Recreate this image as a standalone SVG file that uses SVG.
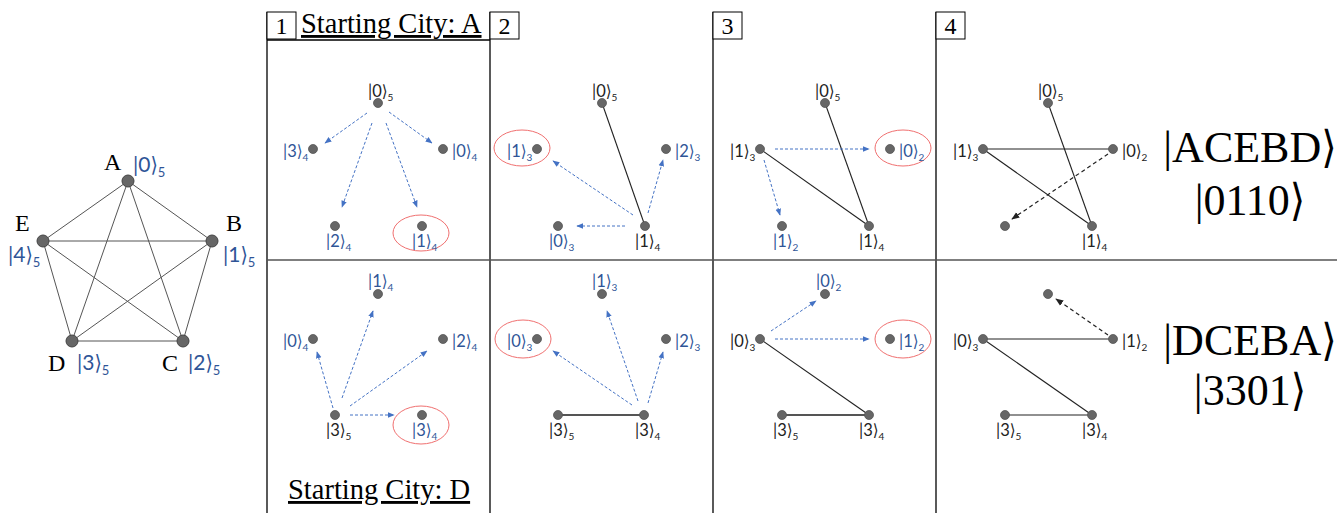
<svg xmlns="http://www.w3.org/2000/svg" width="1337" height="513" viewBox="0 0 1337 513">
<style>
.bg{fill:#fff}
.grid{stroke:#000;stroke-width:1.3;fill:none}
.hl{stroke:#555;stroke-width:1.6}
.box{fill:#fff;stroke:#000;stroke-width:1}
.num{font-family:"Liberation Serif",serif;font-size:24px;fill:#000;text-anchor:middle}
.title{font-family:"Liberation Serif",serif;font-size:28.5px;fill:#000;text-decoration:underline}
.big{font-family:"Liberation Serif",serif;font-size:44px;fill:#000;text-anchor:middle}
.bb{font-family:"DejaVu Serif Condensed","DejaVu Serif",serif;font-weight:normal}
.let{font-family:"Liberation Serif",serif;font-size:24px;fill:#000}
.k{font-family:Lato,"DejaVu Sans Condensed","DejaVu Sans",sans-serif;font-size:16.5px;fill:#222}
.kb{font-family:Lato,"DejaVu Sans Condensed","DejaVu Sans",sans-serif;font-size:16.5px;fill:#2F5597}
.kl{font-family:Lato,"DejaVu Sans Condensed","DejaVu Sans",sans-serif;font-size:21px;fill:#2F5597}
.s{font-size:10px}
.sl{font-size:13px}
.nd{fill:#666;stroke:#555;stroke-width:0.8}
.ndl{fill:#666;stroke:#444;stroke-width:1}
.edge{stroke:#555;stroke-width:1;fill:none}
.sol{stroke:#222;stroke-width:1.1;fill:none}
.gry{stroke:#555;stroke-width:2;fill:none}
.da{stroke:#4472C4;stroke-width:1;stroke-dasharray:3 2;fill:none;marker-end:url(#ab)}
.dk{stroke:#222;stroke-width:1.2;stroke-dasharray:4 3;fill:none;marker-end:url(#ak)}
.red{fill:none;stroke:#F07070;stroke-width:1}
</style>
<defs>
<marker id="ab" viewBox="0 0 10 10" refX="9" refY="5" markerWidth="7" markerHeight="7" markerUnits="userSpaceOnUse" orient="auto"><path d="M0,1 L10,5 L0,9 z" fill="#4472C4"/></marker>
<marker id="ak" viewBox="0 0 10 10" refX="9" refY="5" markerWidth="8" markerHeight="8" markerUnits="userSpaceOnUse" orient="auto"><path d="M0,1 L10,5 L0,9 z" fill="#222"/></marker>
</defs>
<rect class="bg" x="0" y="0" width="1337" height="513"/>

<g id="grid">
<line class="grid" x1="267" y1="12" x2="267" y2="513"/>
<line class="grid" x1="490" y1="12" x2="490" y2="513"/>
<line class="grid" x1="713" y1="12" x2="713" y2="513"/>
<line class="grid" x1="936" y1="12" x2="936" y2="513"/>
<line class="grid" x1="267" y1="40" x2="490" y2="40"/>
<line class="hl" x1="267" y1="260" x2="1337" y2="260"/>
</g>

<g id="headers">
<rect class="box" x="267" y="12" width="29" height="27"/><text class="num" x="281.5" y="34">1</text>
<rect class="box" x="490" y="12" width="29" height="27"/><text class="num" x="504.5" y="34">2</text>
<rect class="box" x="713" y="12" width="29" height="27"/><text class="num" x="727.5" y="34">3</text>
<rect class="box" x="936" y="12" width="29" height="27"/><text class="num" x="950.5" y="34">4</text>
<text class="title" x="301" y="33">Starting City: A</text>
<text class="title" x="288" y="499">Starting City: D</text>
</g>

<g id="connectors">
<line class="edge" x1="128" y1="181" x2="212" y2="241"/>
<line class="edge" x1="128" y1="181" x2="43" y2="241"/>
<line class="edge" x1="128" y1="181" x2="72" y2="341"/>
<line class="edge" x1="128" y1="181" x2="183" y2="341"/>
<line class="edge" x1="43" y1="241" x2="212" y2="241"/>
<line class="edge" x1="43" y1="241" x2="72" y2="341"/>
<line class="edge" x1="43" y1="241" x2="183" y2="341"/>
<line class="edge" x1="212" y1="241" x2="72" y2="341"/>
<line class="edge" x1="212" y1="241" x2="183" y2="341"/>
<line class="edge" x1="72" y1="341" x2="183" y2="341"/>
<line class="da" x1="367" y1="113" x2="325" y2="143"/>
<line class="da" x1="389" y1="112" x2="432" y2="143"/>
<line class="da" x1="372" y1="123" x2="342" y2="207"/>
<line class="da" x1="386" y1="123" x2="417" y2="207"/>
<line class="sol" x1="602" y1="103" x2="645" y2="226"/>
<line class="da" x1="633" y1="215" x2="553" y2="161"/>
<line class="da" x1="648" y1="213" x2="663" y2="160"/>
<line class="da" x1="625" y1="226" x2="577" y2="226"/>
<line class="sol" x1="825" y1="103" x2="869" y2="226"/>
<line class="sol" x1="760" y1="149" x2="869" y2="226"/>
<line class="da" x1="775" y1="149" x2="869" y2="149"/>
<line class="da" x1="764" y1="160" x2="780" y2="215"/>
<line class="sol" x1="1048" y1="103" x2="1092" y2="226"/>
<line class="sol" x1="983" y1="149" x2="1092" y2="226"/>
<line class="sol" x1="983" y1="149" x2="1113" y2="149"/>
<line class="dk" x1="1108" y1="154" x2="1012" y2="219"/>
<line class="da" x1="333" y1="408" x2="317" y2="352"/>
<line class="da" x1="342" y1="398" x2="373" y2="311"/>
<line class="da" x1="350" y1="406" x2="427" y2="351"/>
<line class="da" x1="350" y1="415" x2="394" y2="415"/>
<line class="gry" x1="558" y1="415" x2="644" y2="415"/>
<line class="da" x1="632" y1="405" x2="553" y2="351"/>
<line class="da" x1="638" y1="401" x2="607" y2="311"/>
<line class="da" x1="648" y1="403" x2="663" y2="352"/>
<line class="gry" x1="782" y1="415" x2="869" y2="415"/>
<line class="sol" x1="760" y1="339" x2="869" y2="415"/>
<line class="da" x1="771" y1="331" x2="816" y2="301"/>
<line class="da" x1="775" y1="339" x2="869" y2="339"/>
<line class="sol" x1="983" y1="339" x2="1113" y2="339"/>
<line class="sol" x1="983" y1="339" x2="1092" y2="415"/>
<line class="sol" x1="1005" y1="415" x2="1092" y2="415"/>
<line class="dk" x1="1108" y1="335" x2="1056" y2="299"/>
</g>

<g id="cityA"><circle class="ndl" cx="128" cy="181" r="6"/><text class="let" x="104" y="170">A</text><text class="kl" x="133" y="172">|0⟩<tspan class="sl" dy="5">5</tspan></text></g>
<g id="cityB"><circle class="ndl" cx="212" cy="241" r="6"/><text class="let" x="226" y="231">B</text><text class="kl" x="223" y="262">|1⟩<tspan class="sl" dy="5">5</tspan></text></g>
<g id="cityC"><circle class="ndl" cx="183" cy="341" r="6"/><text class="let" x="162" y="371">C</text><text class="kl" x="188" y="370">|2⟩<tspan class="sl" dy="5">5</tspan></text></g>
<g id="cityD"><circle class="ndl" cx="72" cy="341" r="6"/><text class="let" x="48" y="371">D</text><text class="kl" x="77" y="370">|3⟩<tspan class="sl" dy="5">5</tspan></text></g>
<g id="cityE"><circle class="ndl" cx="43" cy="241" r="6"/><text class="let" x="15" y="231">E</text><text class="kl" x="8" y="262">|4⟩<tspan class="sl" dy="5">5</tspan></text></g>

<g id="p1t-a"><circle class="nd" cx="378" cy="103" r="4.5"/><text class="k" x="368" y="97">|0⟩<tspan class="s" dy="4">5</tspan></text></g>
<g id="p1t-b"><circle class="nd" cx="313" cy="149" r="4.5"/><text class="kb" x="283" y="157">|3⟩<tspan class="s" dy="4">4</tspan></text></g>
<g id="p1t-c"><circle class="nd" cx="443" cy="149" r="4.5"/><text class="kb" x="452" y="157">|0⟩<tspan class="s" dy="4">4</tspan></text></g>
<g id="p1t-d"><circle class="nd" cx="335" cy="226" r="4.5"/><text class="kb" x="326" y="247">|2⟩<tspan class="s" dy="4">4</tspan></text></g>
<g id="p1t-e"><ellipse class="red" cx="421" cy="233" rx="28" ry="18"/><circle class="nd" cx="422" cy="226" r="4.5"/><text class="kb" x="412" y="247">|1⟩<tspan class="s" dy="4">4</tspan></text></g>

<g id="p2t-a"><circle class="nd" cx="602" cy="103" r="4.5"/><text class="k" x="592" y="97">|0⟩<tspan class="s" dy="4">5</tspan></text></g>
<g id="p2t-b"><ellipse class="red" cx="522" cy="148" rx="28" ry="18"/><circle class="nd" cx="537" cy="149" r="4.5"/><text class="kb" x="507" y="157">|1⟩<tspan class="s" dy="4">3</tspan></text></g>
<g id="p2t-c"><circle class="nd" cx="666" cy="149" r="4.5"/><text class="kb" x="675" y="157">|2⟩<tspan class="s" dy="4">3</tspan></text></g>
<g id="p2t-d"><circle class="nd" cx="558" cy="226" r="4.5"/><text class="kb" x="549" y="247">|0⟩<tspan class="s" dy="4">3</tspan></text></g>
<g id="p2t-e"><circle class="nd" cx="645" cy="226" r="4.5"/><text class="k" x="635" y="247">|1⟩<tspan class="s" dy="4">4</tspan></text></g>

<g id="p3t-a"><circle class="nd" cx="825" cy="103" r="4.5"/><text class="k" x="815" y="97">|0⟩<tspan class="s" dy="4">5</tspan></text></g>
<g id="p3t-b"><circle class="nd" cx="760" cy="149" r="4.5"/><text class="k" x="730" y="157">|1⟩<tspan class="s" dy="4">3</tspan></text></g>
<g id="p3t-c"><ellipse class="red" cx="903" cy="148" rx="28" ry="18"/><circle class="nd" cx="890" cy="149" r="4.5"/><text class="kb" x="899" y="157">|0⟩<tspan class="s" dy="4">2</tspan></text></g>
<g id="p3t-d"><circle class="nd" cx="782" cy="226" r="4.5"/><text class="kb" x="773" y="247">|1⟩<tspan class="s" dy="4">2</tspan></text></g>
<g id="p3t-e"><circle class="nd" cx="869" cy="226" r="4.5"/><text class="k" x="859" y="247">|1⟩<tspan class="s" dy="4">4</tspan></text></g>

<g id="p4t-a"><circle class="nd" cx="1048" cy="103" r="4.5"/><text class="k" x="1038" y="97">|0⟩<tspan class="s" dy="4">5</tspan></text></g>
<g id="p4t-b"><circle class="nd" cx="983" cy="149" r="4.5"/><text class="k" x="953" y="157">|1⟩<tspan class="s" dy="4">3</tspan></text></g>
<g id="p4t-c"><circle class="nd" cx="1113" cy="149" r="4.5"/><text class="k" x="1122" y="157">|0⟩<tspan class="s" dy="4">2</tspan></text></g>
<g id="p4t-d"><circle class="nd" cx="1005" cy="226" r="4.5"/></g>
<g id="p4t-e"><circle class="nd" cx="1092" cy="226" r="4.5"/><text class="k" x="1082" y="247">|1⟩<tspan class="s" dy="4">4</tspan></text></g>
<g id="result-top"><text class="big" x="1250" y="162">|ACEBD<tspan class="bb">⟩</tspan></text><text class="big" x="1250" y="215">|0110<tspan class="bb">⟩</tspan></text></g>

<g id="p1b-a"><circle class="nd" cx="378" cy="294" r="4.5"/><text class="kb" x="368" y="287">|1⟩<tspan class="s" dy="4">4</tspan></text></g>
<g id="p1b-b"><circle class="nd" cx="313" cy="339" r="4.5"/><text class="kb" x="283" y="347">|0⟩<tspan class="s" dy="4">4</tspan></text></g>
<g id="p1b-c"><circle class="nd" cx="443" cy="339" r="4.5"/><text class="kb" x="452" y="347">|2⟩<tspan class="s" dy="4">4</tspan></text></g>
<g id="p1b-d"><circle class="nd" cx="335" cy="415" r="4.5"/><text class="k" x="326" y="436">|3⟩<tspan class="s" dy="4">5</tspan></text></g>
<g id="p1b-e"><ellipse class="red" cx="421" cy="425" rx="28" ry="19"/><circle class="nd" cx="422" cy="415" r="4.5"/><text class="kb" x="412" y="436">|3⟩<tspan class="s" dy="4">4</tspan></text></g>

<g id="p2b-a"><circle class="nd" cx="602" cy="294" r="4.5"/><text class="kb" x="592" y="287">|1⟩<tspan class="s" dy="4">3</tspan></text></g>
<g id="p2b-b"><ellipse class="red" cx="523" cy="339" rx="28" ry="19"/><circle class="nd" cx="537" cy="339" r="4.5"/><text class="kb" x="507" y="347">|0⟩<tspan class="s" dy="4">3</tspan></text></g>
<g id="p2b-c"><circle class="nd" cx="666" cy="339" r="4.5"/><text class="kb" x="675" y="347">|2⟩<tspan class="s" dy="4">3</tspan></text></g>
<g id="p2b-d"><circle class="nd" cx="558" cy="415" r="4.5"/><text class="k" x="549" y="436">|3⟩<tspan class="s" dy="4">5</tspan></text></g>
<g id="p2b-e"><circle class="nd" cx="644" cy="415" r="4.5"/><text class="k" x="635" y="436">|3⟩<tspan class="s" dy="4">4</tspan></text></g>

<g id="p3b-a"><circle class="nd" cx="825" cy="294" r="4.5"/><text class="kb" x="816" y="287">|0⟩<tspan class="s" dy="4">2</tspan></text></g>
<g id="p3b-b"><circle class="nd" cx="760" cy="339" r="4.5"/><text class="k" x="730" y="347">|0⟩<tspan class="s" dy="4">3</tspan></text></g>
<g id="p3b-c"><ellipse class="red" cx="903" cy="339" rx="28" ry="19"/><circle class="nd" cx="890" cy="339" r="4.5"/><text class="kb" x="899" y="347">|1⟩<tspan class="s" dy="4">2</tspan></text></g>
<g id="p3b-d"><circle class="nd" cx="782" cy="415" r="4.5"/><text class="k" x="773" y="436">|3⟩<tspan class="s" dy="4">5</tspan></text></g>
<g id="p3b-e"><circle class="nd" cx="869" cy="415" r="4.5"/><text class="k" x="859" y="436">|3⟩<tspan class="s" dy="4">4</tspan></text></g>

<g id="p4b-a"><circle class="nd" cx="1048" cy="294" r="4.5"/></g>
<g id="p4b-b"><circle class="nd" cx="983" cy="339" r="4.5"/><text class="k" x="953" y="347">|0⟩<tspan class="s" dy="4">3</tspan></text></g>
<g id="p4b-c"><circle class="nd" cx="1113" cy="339" r="4.5"/><text class="k" x="1122" y="347">|1⟩<tspan class="s" dy="4">2</tspan></text></g>
<g id="p4b-d"><circle class="nd" cx="1005" cy="415" r="4.5"/><text class="k" x="996" y="436">|3⟩<tspan class="s" dy="4">5</tspan></text></g>
<g id="p4b-e"><circle class="nd" cx="1092" cy="415" r="4.5"/><text class="k" x="1082" y="436">|3⟩<tspan class="s" dy="4">4</tspan></text></g>
<g id="result-bottom"><text class="big" x="1250" y="355">|DCEBA<tspan class="bb">⟩</tspan></text><text class="big" x="1250" y="405">|3301<tspan class="bb">⟩</tspan></text></g>
</svg>
